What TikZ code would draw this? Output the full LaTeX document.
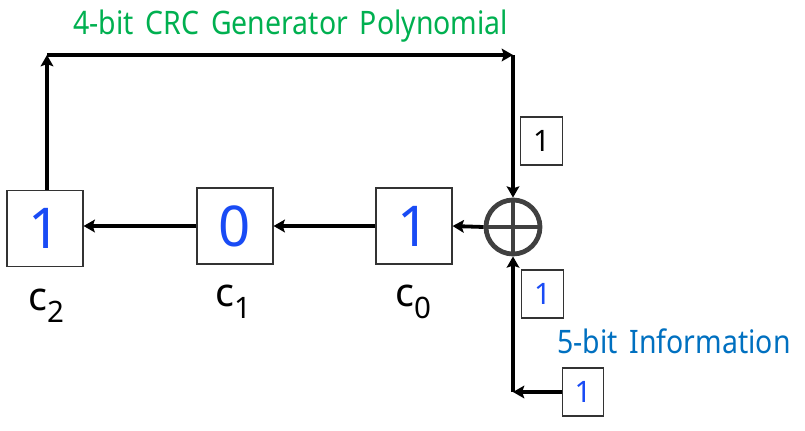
\documentclass[tikz,border=0pt]{standalone}
\usepackage{fontspec}
\usetikzlibrary{arrows.meta}
\setmainfont{Noto Sans}
\newfontfamily\titlefont[FakeStretch=0.88,WordSpace=1.6]{Noto Sans}
\definecolor{bitblue}{RGB}{25,75,245}
\definecolor{crcgreen}{RGB}{0,176,80}
\definecolor{infoblue}{RGB}{0,112,192}
\definecolor{xorgray}{RGB}{64,64,64}
\newcommand{\regname}[2]{c\raisebox{-0.3em}{\fontsize{21}{21}\selectfont #2}}
\begin{document}
\begin{tikzpicture}[
        x=0.025cm, y=-0.025cm,
        regbox/.style={draw=black!80, thick, fill=white, minimum width=1.9cm, minimum height=1.9cm, inner sep=0pt, text=bitblue, font=\fontsize{40}{40}\selectfont},
        bitbox/.style={draw=black!80, thick, fill=white, minimum width=1.03cm, minimum height=1.2cm, inner sep=0pt, font=\fontsize{21}{21}\selectfont},
        reglabel/.style={inner sep=0pt, font=\fontsize{28}{28}\selectfont},
        arrow/.style={black, -{Stealth[length=8pt,width=9pt,inset=1.5pt]}, line width=2.7pt},
        titlelabel/.style={inner sep=0pt, font=\titlefont\fontsize{23}{23}\selectfont}
    ]
    \useasboundingbox (0,0) rectangle (805,430);

    % ==========================================
    % SHIFT REGISTER
    % ==========================================
    \node[regbox] (c2) at (45,228.5) {1};
    \node[regbox] (c1) at (235,226) {0};
    \node[regbox] (c0) at (414,226) {1};
    \node[reglabel] (c2name) at (46,306) {\regname{c}{2}};
    \node[reglabel] (c1name) at (233,302) {\regname{c}{1}};
    \node[reglabel] (c0name) at (413,302) {\regname{c}{0}};

    % XOR
    \node[circle, draw=xorgray, line width=3.4pt, minimum size=1.35cm, inner sep=0pt] (xor) at (513,227) {};
    \draw[xorgray, line width=3.4pt] (xor.north) -- (xor.south);
    \draw[xorgray, line width=3.4pt] (xor.west) -- (xor.east);

    % ==========================================
    % FEEDBACK PATH
    % ==========================================
    \coordinate (topleft) at (47,55);
    \coordinate (topright) at (513,55);
    \coordinate (inbend) at (513,392);

    \draw[arrow] (c2.north -| topleft) -- (topleft);
    \draw[arrow] (topleft) -- (topright);
    \draw[arrow] (topright) -- (xor.north);

    % register chain
    \draw[arrow] (xor.west) -- (c0.east);
    \draw[arrow] (c0.west) -- (c1.east);
    \draw[arrow] (c1.west) -- (c2.east |- c1.west);

    % ==========================================
    % BIT BOXES
    % ==========================================
    \node[bitbox] (fbbit) at (541.5,141) {1};
    \node[bitbox, text=bitblue] (xorbit) at (542.5,294) {1};
    \node[bitbox, text=bitblue] (inbit) at (583,392) {1};

    \draw[arrow] (inbit.west) -- (inbend);
    \draw[arrow] (inbend) -- (xor.south);

    % ==========================================
    % TITLES
    % ==========================================
    \node[titlelabel, text=crcgreen, anchor=west] (crctitle) at (73,26) {4-bit CRC Generator Polynomial};
    \node[titlelabel, text=infoblue, anchor=west] (infotitle) at (557,341) {5-bit Information};

\end{tikzpicture}
\end{document}
